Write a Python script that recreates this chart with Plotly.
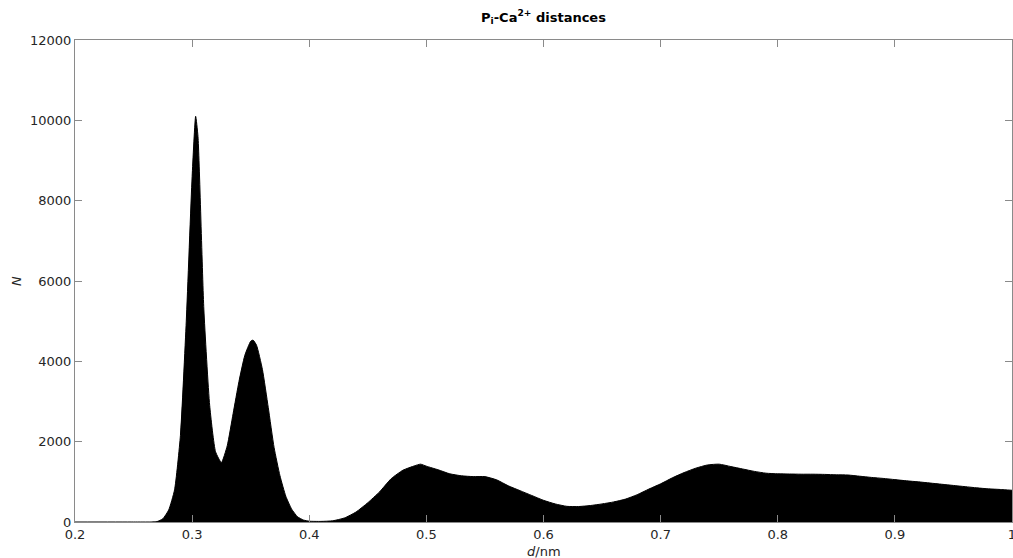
import plotly.graph_objects as go

# distance (nm) and counts
d_nm = [0.200, 0.250, 0.265, 0.270, 0.275, 0.280, 0.285, 0.290, 0.295, 0.300, 0.303,
        0.305, 0.310, 0.315, 0.320, 0.325, 0.330, 0.335, 0.340, 0.345, 0.350, 0.352,
        0.355, 0.360, 0.365, 0.370, 0.375, 0.380, 0.385, 0.390, 0.395, 0.400,
        0.41, 0.42, 0.43, 0.44, 0.45, 0.46, 0.47, 0.48, 0.49, 0.495, 0.50, 0.51,
        0.52, 0.53, 0.54, 0.55, 0.56, 0.57, 0.58, 0.59, 0.60, 0.61, 0.62, 0.63,
        0.64, 0.65, 0.66, 0.67, 0.68, 0.69, 0.70, 0.71, 0.72, 0.73, 0.74, 0.75,
        0.76, 0.77, 0.78, 0.79, 0.80, 0.81, 0.82, 0.83, 0.84, 0.85, 0.86, 0.87,
        0.88, 0.89, 0.90, 0.91, 0.92, 0.93, 0.94, 0.95, 0.96, 0.97, 0.98, 0.99, 1.00]
counts = [0, 0, 0, 10, 80, 300, 800, 2150, 5000, 8600, 10100,
          9600, 5300, 2900, 1750, 1480, 1900, 2700, 3500, 4150, 4500, 4530,
          4400, 3800, 2850, 1850, 1150, 640, 320, 130, 50, 20,
          15, 30, 100, 250, 480, 750, 1080, 1290, 1400, 1440, 1390, 1300,
          1200, 1150, 1130, 1130, 1050, 900, 780, 660, 540, 450, 390, 385,
          410, 450, 500, 570, 680, 820, 950, 1100, 1230, 1340, 1420, 1440,
          1380, 1320, 1260, 1215, 1200, 1195, 1190, 1190, 1185, 1175, 1170, 1140,
          1110, 1085, 1055, 1025, 1000, 970, 940, 910, 880, 850, 825, 810, 790]

x_ticks = [0.2, 0.3, 0.4, 0.5, 0.6, 0.7, 0.8, 0.9, 1.0]
x_ticklabels = ["0.2", "0.3", "0.4", "0.5", "0.6", "0.7", "0.8", "0.9", "1"]
y_ticks = [0, 2000, 4000, 6000, 8000, 10000, 12000]
y_ticklabels = ["0", "2000", "4000", "6000", "8000", "10000", "12000"]

FONT = "DejaVu Sans"
AXC = "#8a8a8a"
TXC = "#262626"

fig = go.Figure()
fig.add_trace(go.Scatter(
    x=d_nm, y=counts, mode="lines", fill="tozeroy",
    fillcolor="black", line=dict(color="black", width=1, shape="spline", smoothing=0.5),
    hoverinfo="x+y", showlegend=False,
))

axis_common = dict(
    showgrid=False, zeroline=False, showline=True, linecolor=AXC, linewidth=1,
    mirror="ticks", ticks="inside", ticklen=7, tickcolor=AXC, tickwidth=1,
    tickfont=dict(family=FONT, size=13, color=TXC), ticklabeloverflow="allow",
    automargin=False,
)

fig.update_layout(
    width=1013, height=558,
    margin=dict(l=75, r=1, t=40, b=36, autoexpand=False),
    paper_bgcolor="white", plot_bgcolor="white",
    font=dict(family=FONT, color=TXC),
    title=dict(
        text="<b>P<sub>i</sub>-Ca<sup>2+</sup> distances</b>",
        x=0.5, xref="paper", xanchor="center",
        y=1 - 17 / 558, yref="container", yanchor="middle",
        font=dict(family=FONT, size=13, color="black"),
    ),
    xaxis=dict(range=[0.2, 1.0], tickvals=x_ticks, ticktext=x_ticklabels, **axis_common),
    yaxis=dict(range=[0, 12000], tickvals=y_ticks, ticktext=y_ticklabels, **axis_common),
)

plot_w = 1013 - 75 - 1
plot_h = 558 - 40 - 36
fig.add_annotation(text="<i>d</i>/nm", x=0.5, xref="paper",
                   y=-(551 - 522) / plot_h, yref="paper", yanchor="middle",
                   showarrow=False, font=dict(family=FONT, size=13, color=TXC))
fig.add_annotation(text="<i>N</i>", x=-(75 - 16) / plot_w, xref="paper", xanchor="center",
                   y=0.5, yref="paper", showarrow=False, textangle=-90,
                   font=dict(family=FONT, size=13, color=TXC))

fig.write_html("out.html")
